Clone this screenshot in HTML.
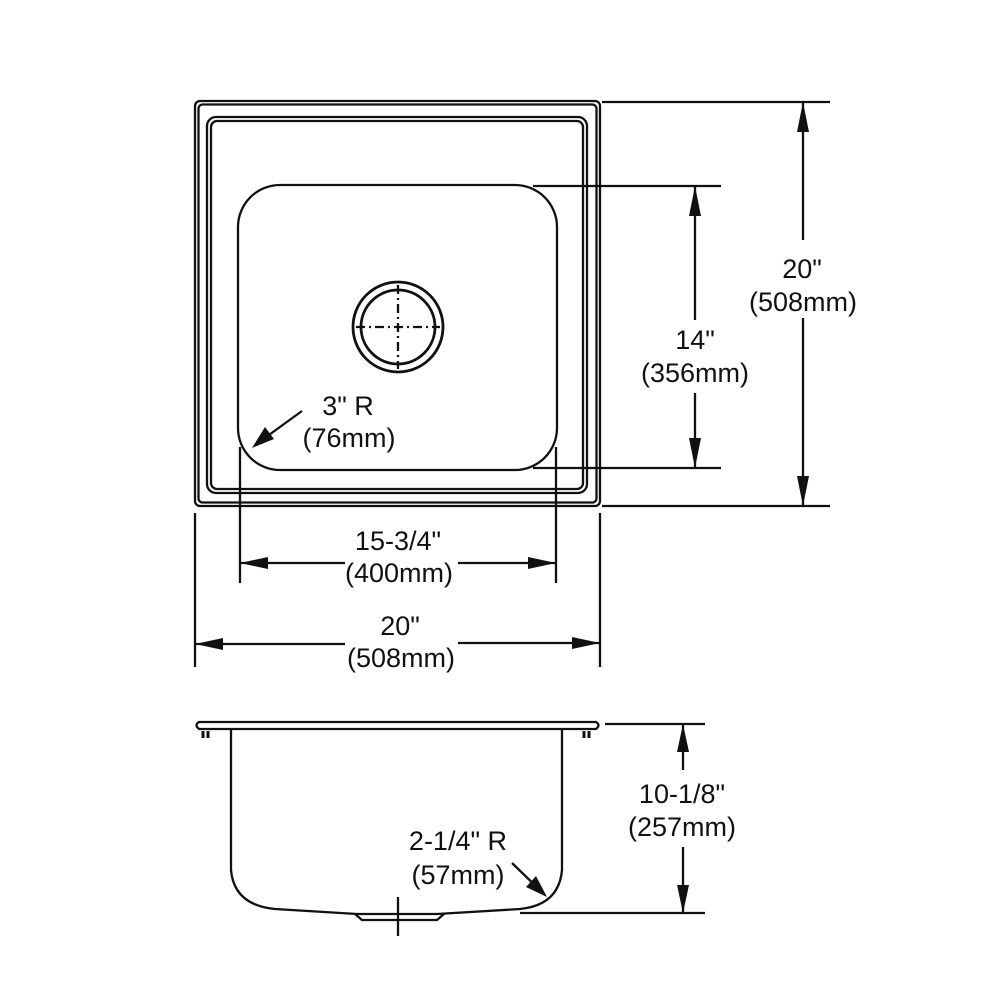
<!DOCTYPE html>
<html><head><meta charset="utf-8"><style>
html,body{margin:0;padding:0;background:#fff}
svg{display:block}
text{font-family:"Liberation Sans",Arial,sans-serif;font-size:27px;fill:#111;text-anchor:middle}
</style></head><body>
<svg width="1000" height="1000" viewBox="0 0 1000 1000" xmlns="http://www.w3.org/2000/svg">
<g fill="none" stroke="#111" stroke-width="2.3">
<rect x="195" y="101" width="405" height="405" rx="5"/>
<rect x="198.5" y="104.5" width="398" height="398" rx="4"/>
<rect x="207" y="117" width="380" height="376" rx="9"/>
<rect x="211" y="121" width="372" height="368" rx="6"/>
<rect x="238" y="185" width="319" height="285" rx="42"/>
<circle cx="398" cy="327" r="45" stroke-width="2.8"/>
<circle cx="398" cy="327" r="37" stroke-width="2.8"/>
<line x1="398" y1="285" x2="398" y2="369" stroke-dasharray="9,4,2,4"/>
<line x1="356" y1="327" x2="440" y2="327" stroke-dasharray="9,4,2,4"/>
<line x1="602" y1="102" x2="830" y2="102"/>
<line x1="602" y1="506" x2="830" y2="506"/>
<line x1="803" y1="102" x2="803" y2="240"/>
<line x1="803" y1="318" x2="803" y2="506"/>
<line x1="533" y1="186" x2="721" y2="186"/>
<line x1="533" y1="468" x2="721" y2="468"/>
<line x1="695" y1="186" x2="695" y2="320"/>
<line x1="695" y1="393" x2="695" y2="468"/>
<line x1="240" y1="447" x2="240" y2="583"/>
<line x1="556" y1="447" x2="556" y2="583"/>
<line x1="240" y1="563" x2="345" y2="563"/>
<line x1="458" y1="563" x2="556" y2="563"/>
<line x1="195" y1="513" x2="195" y2="667"/>
<line x1="600" y1="513" x2="600" y2="667"/>
<line x1="195" y1="644" x2="345" y2="644"/>
<line x1="458" y1="643" x2="600" y2="643"/>
<line x1="302" y1="411" x2="262" y2="440"/>
<path d="M199 722 L596 722 Q601 725 596 729 L199 729 Q194 725 199 722 Z"/>
<path d="M231 729 L231 870 Q234 905 275 909 L357 914 L437 914 L520 909 Q559 905 562 870 L562 729"/>
<path d="M355 914 L362 920 L437 920 L444 914"/>
<line x1="398" y1="897" x2="398" y2="936"/>
<path d="M203 731 v7 M208 731 v7 M584 731 v7 M589 731 v7" stroke-width="3"/>
<line x1="605" y1="724" x2="705" y2="724"/>
<line x1="520" y1="913" x2="705" y2="913"/>
<line x1="683" y1="724" x2="683" y2="770"/>
<line x1="683" y1="847" x2="683" y2="913"/>
<line x1="512" y1="863" x2="545" y2="895"/>
</g>
<g fill="#111">
<polygon points="803,102 797,132 809,132"/>
<polygon points="803,506 797,476 809,476"/>
<polygon points="695,186 689,216 701,216"/>
<polygon points="695,468 689,438 701,438"/>
<polygon points="240,563 268,557 268,569"/>
<polygon points="556,563 528,557 528,569"/>
<polygon points="195,644 223,638 223,650"/>
<polygon points="600,643 572,637 572,649"/>
<polygon points="683,724 677,752 689,752"/>
<polygon points="683,913 677,885 689,885"/>
<polygon points="252,448 265,427 274,439"/>
<polygon points="547,897 526,887 536,876"/>
</g>
<text x="802" y="278">20"</text>
<text x="803" y="311">(508mm)</text>
<text x="695" y="349">14"</text>
<text x="695" y="382">(356mm)</text>
<text x="348" y="415">3" R</text>
<text x="349" y="447">(76mm)</text>
<text x="398" y="550">15-3/4"</text>
<text x="399" y="582">(400mm)</text>
<text x="400" y="635">20"</text>
<text x="401" y="667">(508mm)</text>
<text x="458" y="850">2-1/4" R</text>
<text x="458" y="884">(57mm)</text>
<text x="682" y="803">10-1/8"</text>
<text x="682" y="836">(257mm)</text>
</svg>
</body></html>
